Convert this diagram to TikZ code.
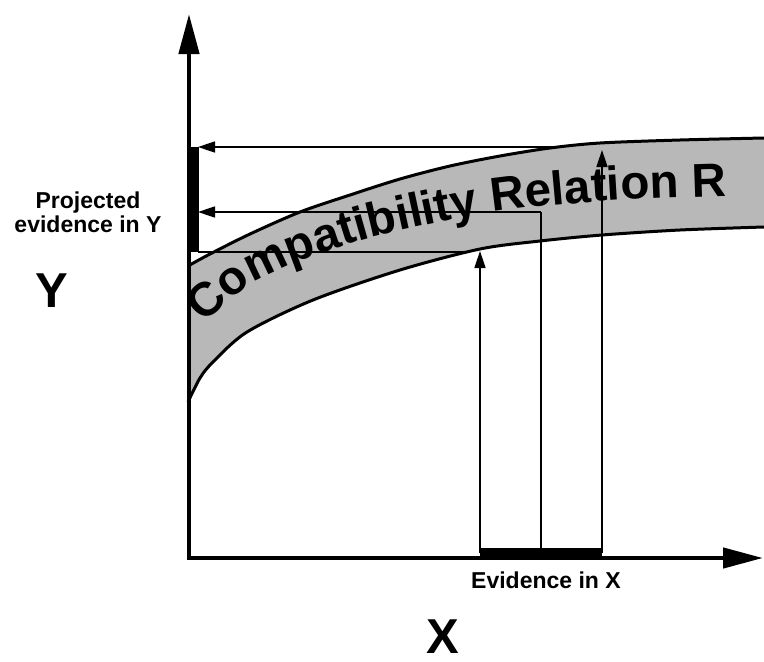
\documentclass[tikz,border=0pt]{standalone}
\usepackage{fontspec}
\setmainfont{Liberation Sans}
\usetikzlibrary{arrows.meta,decorations.text}
\tikzset{
  axis/.style={line width=4.5pt, {Triangle[length=40pt,width=20pt]}-{Triangle[length=40pt,width=20pt]}},
  proj/.style={line width=1.6pt},
  projarrow/.style={proj, -{Triangle[length=17pt,width=11pt]}},
  evbar/.style={line width=10pt},
  bandedge/.style={line width=3pt},
  lbl/.style={font=\bfseries\fontsize{23}{24}\selectfont, align=center, inner sep=0pt},
  biglbl/.style={font=\bfseries\fontsize{49}{49}\selectfont, inner sep=0pt, anchor=base}
}

\begin{document}
\begin{tikzpicture}[x=1pt,y=-1pt]
\useasboundingbox (0,0) rectangle (764,662);
% compatibility band
\fill[black!28] plot[smooth] coordinates {(188,266) (210,254) (250,234) (300,212) (350,195) (400,179) (450,166) (500,156) (550,148) (600,143) (680,140) (764,138)}
  -- plot[smooth] coordinates {(764,227) (680,230) (602,235) (540,241) (480,249) (400,270) (313,300) (247,332) (213,362) (200,378) (188,402)} -- cycle;
\draw[bandedge] plot[smooth] coordinates {(188,266) (210,254) (250,234) (300,212) (350,195) (400,179) (450,166) (500,156) (550,148) (600,143) (680,140) (764,138)};
\draw[bandedge] plot[smooth] coordinates {(188,402) (200,378) (213,362) (247,332) (313,300) (400,270) (480,249) (540,241) (602,235) (680,230) (764,227)};
\path[decorate, decoration={text along path, text align=left,
  text={|\bfseries\fontsize{47.5}{47.5}\selectfont|Compatibility Relation R}}]
  plot[smooth] coordinates {(205,324) (245,288) (290,265) (343,246) (385,234) (470,216) (525,208) (620,200) (755,195)};

% axes
\coordinate (o) at (189,558);
\coordinate (ytop) at (189,14);
\coordinate (xend) at (763,558);
\draw[axis] (ytop) -- (o) -- (xend);

% evidence
\coordinate (ex1) at (480,553);
\coordinate (ex2) at (541,553);
\coordinate (ex3) at (602,553);
\coordinate (ey1) at (193.5,147);
\coordinate (ey2) at (193.5,252);
\draw[evbar] (ex1) -- (ex3);
\draw[evbar] (ey1) -- (ey2);

% projection
\coordinate (r1) at (480,251);
\coordinate (r2) at (541,212);
\coordinate (r3) at (602,150);
\coordinate (h1) at (465,252);
\coordinate (h3) at (552,147);
\coordinate (y1) at (198,252);
\coordinate (y2) at (198,212);
\coordinate (y3) at (198,147);
\draw[projarrow] (ex1) -- (r1);
\draw[proj] (ex2) -- (r2);
\draw[projarrow] (r2) -- (y2);
\draw[projarrow] (ex3) -- (r3);
\draw[projarrow] (h3) -- (y3);
\draw[proj] (h1) -- (y1);

% labels
\node[lbl] (ylab) at (88,212) {Projected\\evidence in Y};
\node[biglbl] (yname) at (52,307) {Y};
\node[lbl] (xlab) at (546,580) {Evidence in X};
\node[biglbl] (xname) at (443,653) {X};
\end{tikzpicture}
\end{document}
